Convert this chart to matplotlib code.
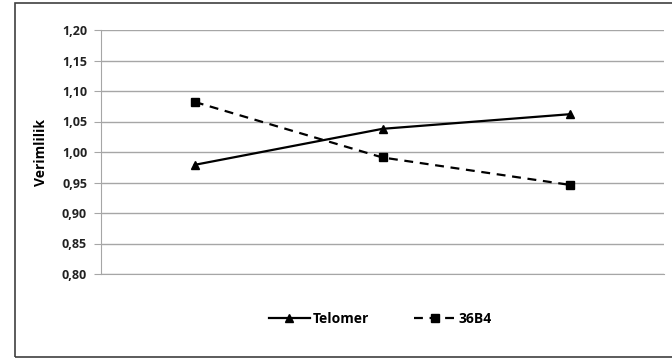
import matplotlib
matplotlib.use('Agg')
import matplotlib.pyplot as plt
from matplotlib.patches import Rectangle

categories = ['1', '2', '3']
telomer = [0.979, 1.038, 1.062]
b36b4 = [1.082, 0.991, 0.946]
yticks = [0.80, 0.85, 0.90, 0.95, 1.00, 1.05, 1.10, 1.15, 1.20]

plt.rcParams['font.family'] = ['Open Sans', 'DejaVu Sans']

fig = plt.figure(figsize=(6.72, 3.59), dpi=100)
ax = fig.add_axes([101/672, 85/359, 563/672, 244/359])

x = range(len(categories))
ax.plot(x, telomer, color='black', lw=1.6, marker='^', ms=6, label='Telomer')
ax.plot(x, b36b4, color='black', lw=1.6, ls=(0, (4, 3)), marker='s', ms=6, label='36B4')

ax.set_xlim(-0.5, 2.5)
ax.set_ylim(0.80, 1.20)
ax.set_yticks(yticks)
ax.set_yticklabels([('%.2f' % t).replace('.', ',') for t in yticks],
                   fontsize=9, fontweight='bold', color='#222222')
ax.set_xticks([])
ax.grid(axis='y', color='#a6a6a6', lw=1)
ax.set_axisbelow(True)
for s in ['top', 'right']:
    ax.spines[s].set_visible(False)
ax.spines['left'].set_color('#a6a6a6')
ax.spines['bottom'].set_color('#a6a6a6')
ax.tick_params(axis='y', length=5, color='#a6a6a6', pad=5)
ax.set_ylabel('Verimlilik', fontsize=10, fontweight='bold', labelpad=10)

leg = fig.legend(loc='center', bbox_to_anchor=(380/672, 1 - 319/359), ncol=2, frameon=False,
                 fontsize=10, handlelength=3.0, columnspacing=3.2, handletextpad=0.2)
for t in leg.get_texts():
    t.set_fontweight('bold')

fig.patches.append(Rectangle((15/672, 2/359), 1.0, 356/359 - 2/359, transform=fig.transFigure,
                             fill=False, edgecolor='#404040', lw=1.2))

fig.savefig('out.png', dpi=100)
